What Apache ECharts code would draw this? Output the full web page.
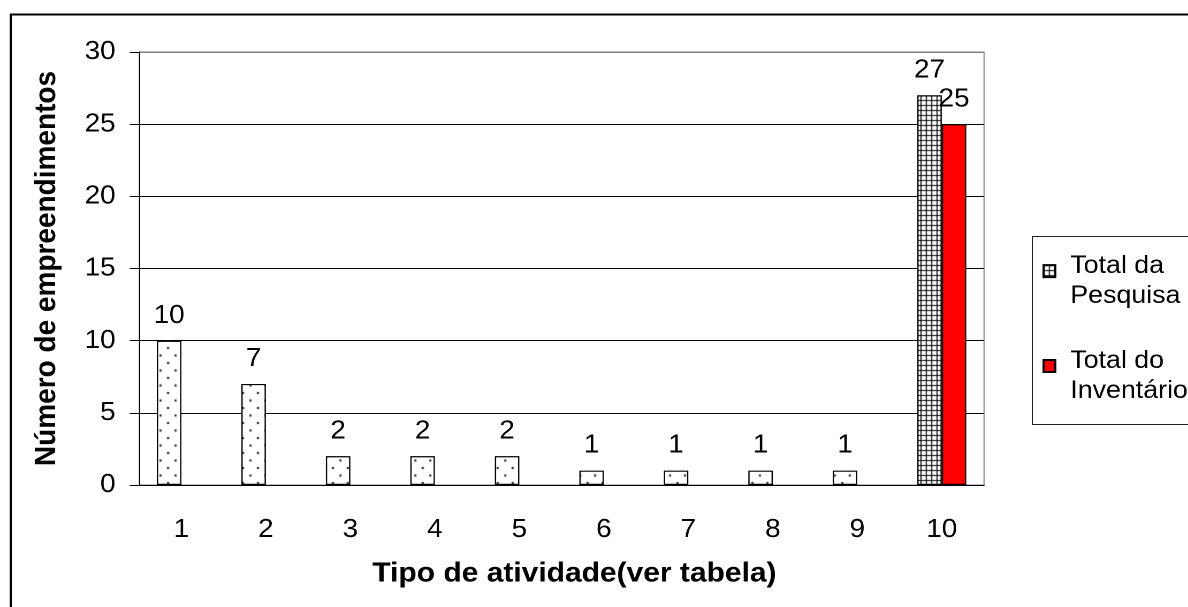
<!DOCTYPE html>
<html>
<head>
<meta charset="utf-8">
<script src="https://cdn.jsdelivr.net/npm/echarts@6/dist/echarts.min.js"></script>
<style>
  html, body { margin: 0; padding: 0; background: #fff; overflow: hidden; }
  /* the drawing is laid out on a narrower canvas and widened to the page */
  #chart { width: 1112px; height: 607px; transform: scaleX(1.0703); transform-origin: 0 0; }
</style>
</head>
<body>
<div id="chart"></div>
<script>
// Activity types on the x axis
const categories = ['1', '2', '3', '4', '5', '6', '7', '8', '9', '10'];
// Number of enterprises found by the survey, per activity type (10 = total)
const totalPesquisa = [10, 7, 2, 2, 2, 1, 1, 1, 1, 27];
// Inventory total, only shown in the last group
const totalInventario = [null, null, null, null, null, null, null, null, null, 25];
const seriesNames = ['Total da Pesquisa', 'Total do Inventário'];
const yTicks = { min: 0, max: 30, step: 5 };

const FONT = "'Liberation Sans', Arial, sans-serif";

// Fill patterns drawn on small canvases
function dotPattern() {
  const c = document.createElement('canvas');
  c.width = 14; c.height = 15;
  const g = c.getContext('2d');
  g.fillStyle = '#fff'; g.fillRect(0, 0, 14, 15);
  g.fillStyle = '#222';
  g.fillRect(2, 2, 2, 2);
  g.fillRect(9, 9.5, 2, 2);
  return { image: c, repeat: 'repeat' };
}
function gridPattern() {
  const c = document.createElement('canvas');
  c.width = 5; c.height = 5;
  const g = c.getContext('2d');
  g.fillStyle = '#fff'; g.fillRect(0, 0, 5, 5);
  g.fillStyle = '#000';
  g.fillRect(0, 0, 5, 1);
  g.fillRect(0, 0, 1, 5);
  return { image: c, repeat: 'repeat' };
}

const dots = dotPattern();
const grid = gridPattern();

// Individual activity types use the dotted fill; the total keeps the grid fill
const pesquisaData = totalPesquisa.map((v, i) =>
  i < totalPesquisa.length - 1 ? { value: v, itemStyle: { color: dots } } : { value: v }
);

const nTicks = (yTicks.max - yTicks.min) / yTicks.step + 1;
const splitColors = Array.from({ length: nTicks }, (_, i) => (i === nTicks - 1 ? '#808080' : '#000'));

const chart = echarts.init(document.getElementById('chart'), null, { renderer: 'canvas', devicePixelRatio: 2 });
chart.setOption({
  animation: false,
  backgroundColor: '#fff',
  textStyle: { fontFamily: FONT },
  graphic: [
    { type: 'rect', left: 7.5, top: 12, shape: { width: 1400, height: 800 },
      style: { fill: 'none', stroke: '#000', lineWidth: 2 }, z: 0 },
    { type: 'rect', left: 964, top: 236, shape: { width: 300, height: 188 },
      style: { fill: '#fff', stroke: '#222', lineWidth: 1 }, z: 1 }
  ],
  grid: {
    left: 130, top: 52, right: 192.6, bottom: 122,
    show: true, borderColor: '#808080', borderWidth: 1, backgroundColor: 'transparent'
  },
  legend: {
    orient: 'vertical',
    left: 974, top: 240.6, padding: 0,
    itemWidth: 11, itemHeight: 12, itemGap: 26.9,
    icon: 'rect',
    data: seriesNames,
    formatter: name => {
      const m = name.match(/^(Total d[ao]) (.*)$/);
      return '{sp| }\n{t|' + m[1] + '}\n{t|' + m[2] + '}';
    },
    textStyle: {
      fontFamily: FONT, color: '#000', padding: [0, 0, 0, 9],
      rich: {
        sp: { fontSize: 1, lineHeight: 20 },
        t: { fontFamily: FONT, fontSize: 25, lineHeight: 30, color: '#000' }
      }
    },
    z: 5
  },
  xAxis: {
    type: 'category',
    data: categories,
    name: 'Tipo de atividade(ver tabela)',
    nameLocation: 'middle',
    nameGap: 75,
    nameTextStyle: { fontFamily: FONT, fontSize: 28, fontWeight: 'bold', color: '#000', padding: [0, 0, 0, 24] },
    axisLine: { lineStyle: { color: '#000', width: 1 } },
    axisTick: { length: 8, lineStyle: { color: '#000' } },
    axisLabel: { fontFamily: FONT, fontSize: 26, color: '#000', margin: 32 },
    splitLine: { show: false }
  },
  yAxis: {
    type: 'value',
    min: yTicks.min, max: yTicks.max, interval: yTicks.step,
    name: 'Número de empreendimentos',
    nameLocation: 'middle',
    nameGap: 72,
    nameTextStyle: { fontFamily: FONT, fontSize: 28, fontWeight: 'bold', color: '#000' },
    axisLine: { show: true, lineStyle: { color: '#000', width: 1 } },
    axisTick: { show: true, length: 9, lineStyle: { color: '#000' } },
    axisLabel: { fontFamily: FONT, fontSize: 26, color: '#000', margin: 22 },
    splitLine: { show: true, lineStyle: { color: splitColors, width: 1 } }
  },
  series: [
    {
      name: seriesNames[0], type: 'bar', data: pesquisaData,
      barGap: '0%', barCategoryGap: '42%',
      itemStyle: { color: grid, borderColor: '#000', borderWidth: 1.2 },
      label: { show: true, position: 'top', distance: 12, fontFamily: FONT, fontSize: 26, color: '#000' }
    },
    {
      name: seriesNames[1], type: 'bar', data: totalInventario,
      itemStyle: { color: '#ff0000', borderColor: '#000', borderWidth: 1.2 },
      label: { show: true, position: 'top', distance: 12, fontFamily: FONT, fontSize: 26, color: '#000' }
    }
  ]
});
</script>
</body>
</html>
